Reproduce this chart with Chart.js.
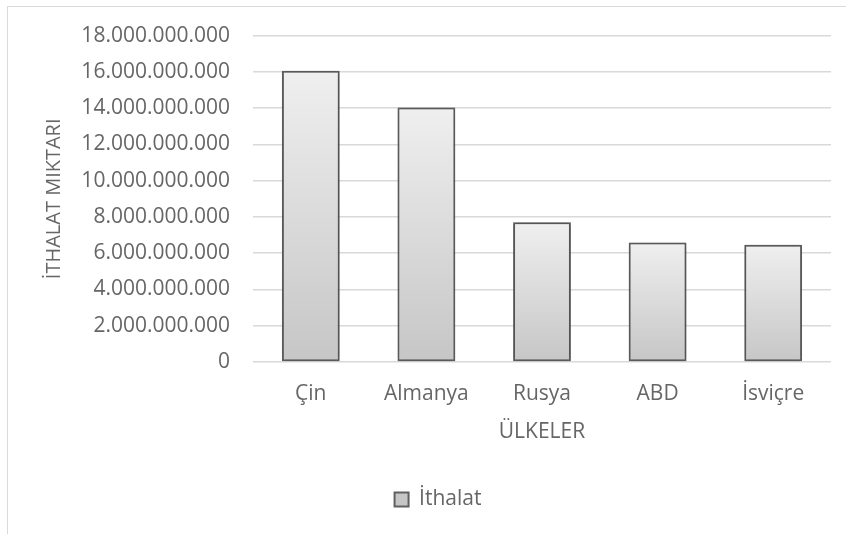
<!DOCTYPE html>
<html>
<head>
<meta charset="utf-8">
<script src="https://cdn.jsdelivr.net/npm/chart.js@4.4.1/dist/chart.umd.min.js"></script>
<style>
  html, body { margin: 0; padding: 0; background: #fff; overflow: hidden; }
  #wrap { position: relative; width: 846px; height: 534px; }
  #frame { position: absolute; left: 7px; top: 6px; width: 900px; height: 600px;
           border-left: 1.5px solid #d9d9d9; border-top: 1.5px solid #d9d9d9; }
  canvas { position: absolute; left: 0; top: 0; }
</style>
</head>
<body>
<div id="wrap">
  <div id="frame"></div>
  <canvas id="importChart"></canvas>
</div>
<script>
const countries = ["Çin", "Almanya", "Rusya", "ABD", "İsviçre"];
const imports = [16060000000, 14030000000, 7700000000, 6590000000, 6460000000];
const yMax = 18000000000;
const yStep = 2000000000;

const textColor = "#666666";
const gridColor = "#d9d9d9";
const fontFamily = "'Open Sans', sans-serif";

function dotted(v) {
    return String(v).replace(/\B(?=(\d{3})+(?!\d))/g, ".");
}

// each bar gets its own light-to-dark gradient, like the office style
function barFill(ctx) {
    const chart = ctx.chart;
    if (ctx.type !== "data" || !chart.chartArea) return "#dcdcdc";
    const y = chart.scales.y;
    const top = y.getPixelForValue(ctx.raw);
    const base = y.getPixelForValue(0);
    const g = chart.ctx.createLinearGradient(0, top, 0, base);
    g.addColorStop(0, "#efefef");
    g.addColorStop(1, "#c6c6c6");
    return g;
}

const barShadow = {
    id: "barShadow",
    beforeDatasetsDraw(chart) {
        const c = chart.ctx;
        c.save();
        c.shadowColor = "rgba(0,0,0,0.3)";
        c.shadowBlur = 4;
    },
    afterDatasetsDraw(chart) {
        chart.ctx.restore();
    }
};

new Chart(document.getElementById("importChart").getContext("2d"), {
    type: "bar",
    data: {
        labels: countries,
        datasets: [{
            label: "İthalat",
            data: imports,
            backgroundColor: barFill,
            borderColor: "#606060",
            borderWidth: 2,
            borderSkipped: false,
            barPercentage: 0.5,
            categoryPercentage: 1
        }]
    },
    options: {
        responsive: true,
        maintainAspectRatio: false,
        animation: false,
        layout: { padding: { left: 45, right: 15, top: 35, bottom: 14 } },
        plugins: {
            legend: {
                position: "bottom",
                labels: {
                    color: textColor,
                    font: { family: fontFamily, size: 21 },
                    boxWidth: 14,
                    boxHeight: 14,
                    padding: 10
                }
            },
            tooltip: { enabled: false }
        },
        scales: {
            x: {
                grid: { display: false },
                border: { display: false },
                ticks: {
                    color: textColor,
                    font: { family: fontFamily, size: 21 },
                    padding: 11
                },
                title: {
                    display: true,
                    text: "ÜLKELER",
                    color: textColor,
                    font: { family: fontFamily, size: 21 },
                    padding: { top: 0, bottom: 34 }
                },
                afterFit(scale) { scale.height = 117; }
            },
            y: {
                min: 0,
                max: yMax,
                grid: { color: gridColor, lineWidth: 1.5, drawTicks: false },
                border: { display: false },
                ticks: {
                    stepSize: yStep,
                    color: textColor,
                    font: { family: fontFamily, size: 21 },
                    padding: 23,
                    callback: v => dotted(v)
                },
                title: {
                    display: true,
                    text: "İTHALAT MIKTARI",
                    color: textColor,
                    font: { family: fontFamily, size: 20 },
                    padding: { top: -3, bottom: 0 }
                },
                afterFit(scale) { scale.width = 208; }
            }
        }
    },
    plugins: [barShadow]
});
</script>
</body>
</html>
